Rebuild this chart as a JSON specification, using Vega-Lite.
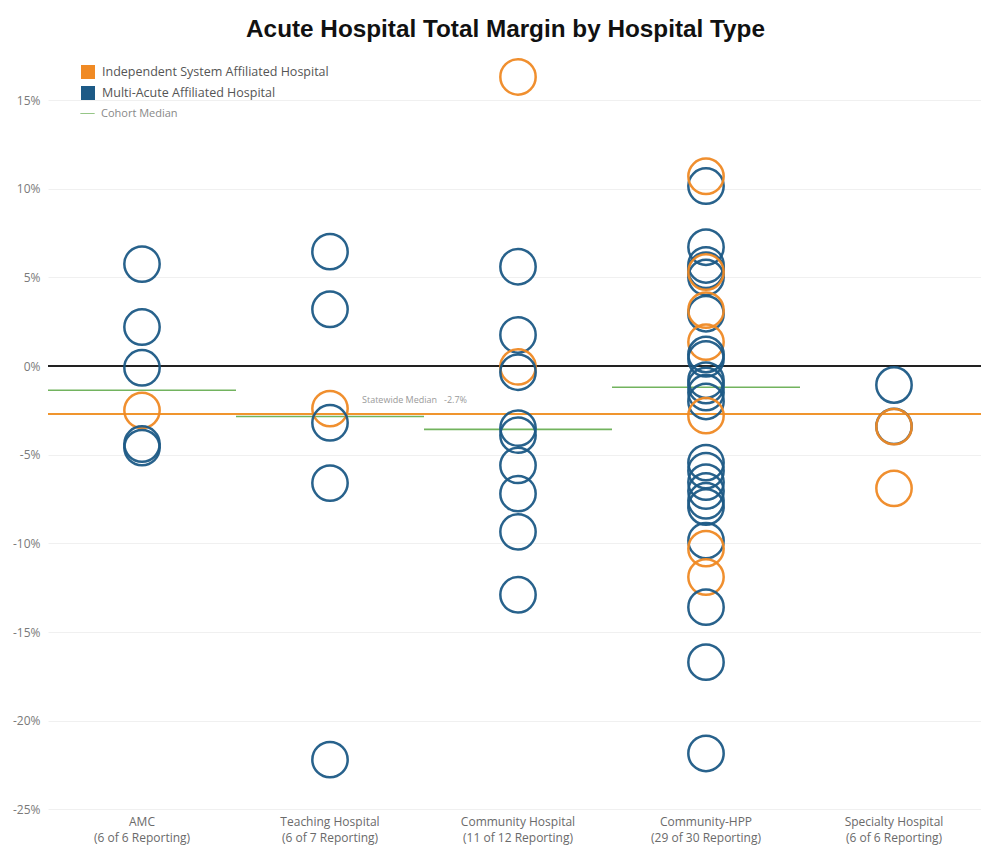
{
  "$schema": "https://vega.github.io/schema/vega-lite/v6.json",
  "autosize": {"type": "none"},
  "width": 933,
  "height": 760,
  "padding": {"left": 48, "top": 55, "right": 0, "bottom": 31},
  "background": "white",
  "title": {
    "text": "Acute Hospital Total Margin by Hospital Type",
    "font": "Liberation Sans",
    "fontSize": 24.3,
    "fontWeight": "bold",
    "color": "#111111",
    "anchor": "middle",
    "dx": -9,
    "offset": 12
  },
  "config": {
    "view": {"stroke": null},
    "font": "Open Sans"
  },
  "datasets": {
    "points": [
      {"cat": "AMC", "type": "Multi-Acute Affiliated Hospital", "v": 5.75},
      {"cat": "AMC", "type": "Multi-Acute Affiliated Hospital", "v": 2.2},
      {"cat": "AMC", "type": "Multi-Acute Affiliated Hospital", "v": -0.1},
      {"cat": "AMC", "type": "Independent System Affiliated Hospital", "v": -2.5},
      {"cat": "AMC", "type": "Multi-Acute Affiliated Hospital", "v": -4.4},
      {"cat": "AMC", "type": "Multi-Acute Affiliated Hospital", "v": -4.6},
      {"cat": "Teaching Hospital", "type": "Multi-Acute Affiliated Hospital", "v": 6.45},
      {"cat": "Teaching Hospital", "type": "Multi-Acute Affiliated Hospital", "v": 3.2},
      {"cat": "Teaching Hospital", "type": "Independent System Affiliated Hospital", "v": -2.4},
      {"cat": "Teaching Hospital", "type": "Multi-Acute Affiliated Hospital", "v": -3.2},
      {"cat": "Teaching Hospital", "type": "Multi-Acute Affiliated Hospital", "v": -6.6},
      {"cat": "Teaching Hospital", "type": "Multi-Acute Affiliated Hospital", "v": -22.2},
      {"cat": "Community Hospital", "type": "Independent System Affiliated Hospital", "v": 16.3},
      {"cat": "Community Hospital", "type": "Multi-Acute Affiliated Hospital", "v": 5.6},
      {"cat": "Community Hospital", "type": "Multi-Acute Affiliated Hospital", "v": 1.75},
      {"cat": "Community Hospital", "type": "Independent System Affiliated Hospital", "v": -0.05},
      {"cat": "Community Hospital", "type": "Multi-Acute Affiliated Hospital", "v": -0.35},
      {"cat": "Community Hospital", "type": "Multi-Acute Affiliated Hospital", "v": -3.5},
      {"cat": "Community Hospital", "type": "Multi-Acute Affiliated Hospital", "v": -3.9},
      {"cat": "Community Hospital", "type": "Multi-Acute Affiliated Hospital", "v": -5.6},
      {"cat": "Community Hospital", "type": "Multi-Acute Affiliated Hospital", "v": -7.2},
      {"cat": "Community Hospital", "type": "Multi-Acute Affiliated Hospital", "v": -9.35},
      {"cat": "Community Hospital", "type": "Multi-Acute Affiliated Hospital", "v": -12.9},
      {"cat": "Community-HPP", "type": "Multi-Acute Affiliated Hospital", "v": 10.15},
      {"cat": "Community-HPP", "type": "Independent System Affiliated Hospital", "v": 10.7},
      {"cat": "Community-HPP", "type": "Multi-Acute Affiliated Hospital", "v": 6.7},
      {"cat": "Community-HPP", "type": "Multi-Acute Affiliated Hospital", "v": 5.7},
      {"cat": "Community-HPP", "type": "Multi-Acute Affiliated Hospital", "v": 5.4},
      {"cat": "Community-HPP", "type": "Multi-Acute Affiliated Hospital", "v": 5.0},
      {"cat": "Community-HPP", "type": "Independent System Affiliated Hospital", "v": 5.3},
      {"cat": "Community-HPP", "type": "Multi-Acute Affiliated Hospital", "v": 2.95},
      {"cat": "Community-HPP", "type": "Independent System Affiliated Hospital", "v": 3.15},
      {"cat": "Community-HPP", "type": "Independent System Affiliated Hospital", "v": 1.35},
      {"cat": "Community-HPP", "type": "Multi-Acute Affiliated Hospital", "v": 0.65},
      {"cat": "Community-HPP", "type": "Multi-Acute Affiliated Hospital", "v": 0.4},
      {"cat": "Community-HPP", "type": "Multi-Acute Affiliated Hospital", "v": -0.8},
      {"cat": "Community-HPP", "type": "Multi-Acute Affiliated Hospital", "v": -1.1},
      {"cat": "Community-HPP", "type": "Multi-Acute Affiliated Hospital", "v": -1.5},
      {"cat": "Community-HPP", "type": "Multi-Acute Affiliated Hospital", "v": -2.0},
      {"cat": "Community-HPP", "type": "Independent System Affiliated Hospital", "v": -2.8},
      {"cat": "Community-HPP", "type": "Multi-Acute Affiliated Hospital", "v": -5.45},
      {"cat": "Community-HPP", "type": "Multi-Acute Affiliated Hospital", "v": -5.9},
      {"cat": "Community-HPP", "type": "Multi-Acute Affiliated Hospital", "v": -6.55},
      {"cat": "Community-HPP", "type": "Multi-Acute Affiliated Hospital", "v": -7.05},
      {"cat": "Community-HPP", "type": "Multi-Acute Affiliated Hospital", "v": -7.6},
      {"cat": "Community-HPP", "type": "Multi-Acute Affiliated Hospital", "v": -7.95},
      {"cat": "Community-HPP", "type": "Multi-Acute Affiliated Hospital", "v": -9.85},
      {"cat": "Community-HPP", "type": "Independent System Affiliated Hospital", "v": -10.3},
      {"cat": "Community-HPP", "type": "Independent System Affiliated Hospital", "v": -11.9},
      {"cat": "Community-HPP", "type": "Multi-Acute Affiliated Hospital", "v": -13.6},
      {"cat": "Community-HPP", "type": "Multi-Acute Affiliated Hospital", "v": -16.7},
      {"cat": "Community-HPP", "type": "Multi-Acute Affiliated Hospital", "v": -21.85},
      {"cat": "Specialty Hospital", "type": "Multi-Acute Affiliated Hospital", "v": -1.07},
      {"cat": "Specialty Hospital", "type": "Multi-Acute Affiliated Hospital", "v": -3.4},
      {"cat": "Specialty Hospital", "type": "Independent System Affiliated Hospital", "v": -3.42},
      {"cat": "Specialty Hospital", "type": "Independent System Affiliated Hospital", "v": -6.9}
    ],
    "medians": [
      {"cat": "AMC", "series": "Cohort Median", "v": -1.37},
      {"cat": "Teaching Hospital", "series": "Cohort Median", "v": -2.85},
      {"cat": "Community Hospital", "series": "Cohort Median", "v": -3.57},
      {"cat": "Community-HPP", "series": "Cohort Median", "v": -1.2}
    ],
    "refs": [
      {"ref": "zero", "v": 0},
      {"ref": "statewide", "v": -2.7}
    ],
    "notes": [
      {"cat": "Teaching Hospital", "v": -2.7, "label": "Statewide Median\u00a0\u00a0\u00a0-2.7%"}
    ]
  },
  "encoding": {
    "x": {
      "field": "cat",
      "type": "nominal",
      "sort": ["AMC", "Teaching Hospital", "Community Hospital", "Community-HPP", "Specialty Hospital"],
      "scale": {
        "type": "band",
        "domain": ["AMC", "Teaching Hospital", "Community Hospital", "Community-HPP", "Specialty Hospital"],
        "range": [0, 940],
        "paddingInner": 0,
        "paddingOuter": 0
      },
      "axis": {
        "title": null,
        "domain": false,
        "ticks": false,
        "labelAngle": 0,
        "labelPadding": 1,
        "labelFontSize": 12,
        "labelColor": "#6a6a6a",
        "labelLineHeight": 16,
        "labelBaseline": "top",
        "labelExpr": "datum.value == 'AMC' ? ['AMC', '(6 of 6 Reporting)'] : datum.value == 'Teaching Hospital' ? ['Teaching Hospital', '(6 of 7 Reporting)'] : datum.value == 'Community Hospital' ? ['Community Hospital', '(11 of 12 Reporting)'] : datum.value == 'Community-HPP' ? ['Community-HPP', '(29 of 30 Reporting)'] : ['Specialty Hospital', '(6 of 6 Reporting)']"
      }
    },
    "y": {
      "field": "v",
      "type": "quantitative",
      "scale": {"domain": [-25.32, 17.54], "nice": false, "zero": false},
      "axis": {
        "title": null,
        "domain": false,
        "ticks": false,
        "values": [-25, -20, -15, -10, -5, 0, 5, 10, 15],
        "labelExpr": "datum.value + '%'",
        "labelPadding": 8,
        "labelFontSize": 12,
        "labelColor": "#7a7a7a",
        "grid": true,
        "gridColor": "#f0f0f0",
        "gridWidth": 1
      }
    }
  },
  "layer": [
    {
      "data": {"name": "refs"},
      "transform": [{"filter": "datum.ref == 'zero'"}],
      "mark": {"type": "rule", "color": "#222222", "strokeWidth": 2},
      "encoding": {"x": null}
    },
    {
      "data": {"name": "medians"},
      "mark": {"type": "rule", "color": "#72b35e", "strokeWidth": 1.6, "xOffset": -94, "x2Offset": 94},
      "encoding": {
        "x2": {"field": "cat"},
        "strokeDash": {
          "field": "series",
          "type": "nominal",
          "scale": {"range": [[1, 0]]},
          "legend": {
            "orient": "none",
            "legendX": 32,
            "legendY": 51,
            "title": null,
            "padding": 0,
            "symbolType": "stroke",
            "symbolSize": 196,
            "symbolStrokeWidth": 1,
            "labelFontSize": 11,
            "labelColor": "#888888",
            "labelOffset": 6
          }
        }
      }
    },
    {
      "data": {"name": "refs"},
      "transform": [{"filter": "datum.ref == 'statewide'"}],
      "mark": {"type": "rule", "color": "#f0952e", "strokeWidth": 2},
      "encoding": {"x": null}
    },
    {
      "data": {"name": "notes"},
      "mark": {"type": "text", "align": "left", "baseline": "middle", "dx": 32, "dy": -14, "fontSize": 9, "color": "#9a9a9a"},
      "encoding": {"text": {"field": "label"}}
    },
    {
      "data": {"name": "points"},
      "mark": {"type": "point", "shape": "circle", "filled": false, "size": 1250, "strokeWidth": 2.5, "opacity": 0.95},
      "encoding": {
        "color": {
          "field": "type",
          "type": "nominal",
          "scale": {
            "domain": ["Independent System Affiliated Hospital", "Multi-Acute Affiliated Hospital"],
            "range": ["#f08a24", "#1d5a86"]
          },
          "legend": {
            "orient": "none",
            "legendX": 33,
            "legendY": 10,
            "title": null,
            "padding": 0,
            "symbolType": "square",
            "symbolSize": 4,
            "symbolStrokeWidth": 12,
            "symbolOpacity": 1,
            "clipHeight": 14,
            "rowPadding": 7,
            "labelFontSize": 12.5,
            "labelLimit": 400,
            "labelColor": "#555555",
            "labelOffset": 7
          }
        }
      }
    }
  ]
}
